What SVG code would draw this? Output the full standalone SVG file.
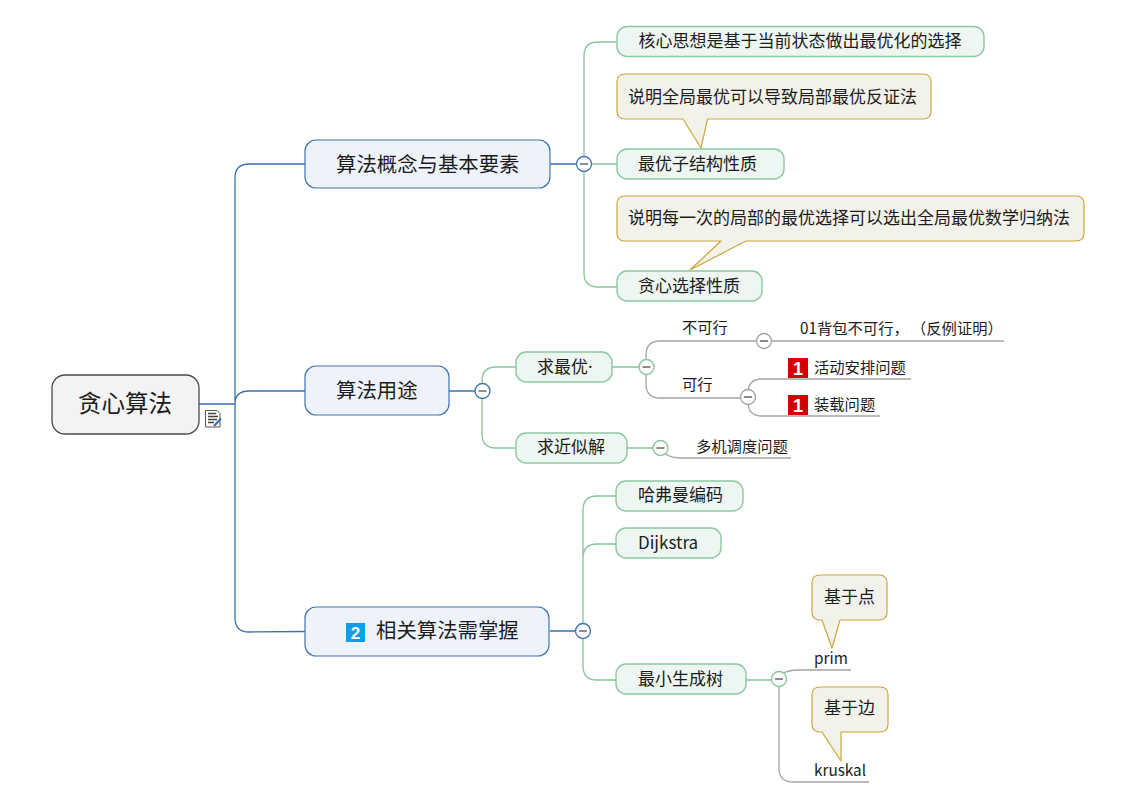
<svg xmlns="http://www.w3.org/2000/svg" width="1144" height="790" viewBox="0 0 1144 790">
<style>
text{font-family:"Noto Sans CJK SC","Noto Sans",sans-serif;fill:#1c1c1c;dominant-baseline:auto}
.l1{font-size:20.4px}.l2{font-size:17px}.l3{font-size:15.3px}
.root{fill:#f3f3f3;stroke:#4a4a4a;stroke-width:1.3}
.main{fill:#eef3fb;stroke:#3f74b1;stroke-width:1.2}
.sub{fill:#edf6f0;stroke:#8cc9a1;stroke-width:1.4}
.call{fill:#f3f2ea;stroke:#cda63c;stroke-width:1.2;stroke-linejoin:round}
.cb{fill:none;stroke:#3a72b0;stroke-width:1.3}
.cg{fill:none;stroke:#85c59b;stroke-width:1.3}
.cy{fill:none;stroke:#a5a5a5;stroke-width:1.3}
.tb{fill:#fff;stroke:#3f74b1;stroke-width:1.3}
.tg{fill:#fff;stroke:#85c59b;stroke-width:1.3}
.ty{fill:#fff;stroke:#a5a5a5;stroke-width:1.3}
.minus{stroke:#444;stroke-width:1.2}
.badge{fill:#d40000}
.bt{font-family:"Liberation Sans",sans-serif;font-size:18px;font-weight:bold;fill:#fff}
</style>
<defs>
<g id="badge1"><rect class="badge" x="0" y="0" width="20" height="20"/><text class="bt" x="10" y="16.500" text-anchor="middle">1</text></g>
</defs>
<g id="connectors">
<path class="cb" d="M199 404H235M235 404V178Q235 164 249 164H305M235 404V404Q235 391 249 391H305M235 404V618Q235 632 249 632L305 631.500"/>
<path class="cb" d="M550 164H584M449 391H482M550 631H583"/>
<path class="cg" d="M584 164H617M584 164V56Q584 42 598 42H617M584 164V273Q584 287 598 287H617"/>
<path class="cg" d="M482 391V381Q482 367 496 367H516M482 391V434Q482 448 496 448H516"/>
<path class="cg" d="M583 631V510Q583 496 597 496H616M583 631V558Q583 544 597 544H616M583 631V666Q583 680 597 680H616"/>
<path class="cg" d="M612 367H646M627 448H660M746 680H779"/>
<path class="cy" d="M646 367V355Q646 341 660 341H764M646 367V384Q646 398 660 398L748 398M764 341H1004"/>
<path class="cy" d="M748 398V393Q748 379 762 379H911M748 398V402Q748 416 762 416H880"/>
<path class="cy" d="M660 448Q666 458 680 458H791"/>
<path class="cy" d="M783 674Q786 670 800 670H851M779 680V768Q779 782 793 782H869"/>
</g>
<g id="toggles">
<circle class="tb" cx="584" cy="164" r="7.500"/><path class="minus" d="M580 164H588"/>
<circle class="tb" cx="482.500" cy="391" r="7.500"/><path class="minus" d="M478.500 391H486.500"/>
<circle class="tb" cx="583" cy="631" r="7.500"/><path class="minus" d="M579 631H587"/>
<circle class="tg" cx="646.500" cy="367" r="7.500"/><path class="minus" d="M642.500 367H650.500"/>
<circle class="tg" cx="660.500" cy="448" r="7.500"/><path class="minus" d="M656.500 448H664.500"/>
<circle class="tg" cx="779" cy="679" r="7.500"/><path class="minus" d="M775 679H783"/>
<circle class="ty" cx="764" cy="341" r="7.500"/><path class="minus" d="M760 341H768"/>
<circle class="ty" cx="748" cy="397" r="7.500"/><path class="minus" d="M744 397H752"/>
</g>
<g id="root"><rect class="root" x="52" y="375" width="147" height="59" rx="13"/><text x="78" y="412" font-size="23.500">贪心算法</text>
<g id="note-icon"><path d="M205.500 410.500H217L220 413.500V427H205.500Z" fill="#fff" stroke="#555" stroke-width="1"/><path d="M208 413.500H216M208 416.500H218M208 419.500H217M208 422.500H214" stroke="#444" stroke-width="1.600"/><path d="M214 426L221 418.500" stroke="#3a72b0" stroke-width="2.200"/></g></g>
<g id="n1"><rect class="main" x="305" y="140" width="245" height="48" rx="11"/><text class="l1" x="336" y="172">算法概念与基本要素</text></g>
<g id="n2"><rect class="main" x="305" y="366" width="144" height="49" rx="11"/><text class="l1" x="336" y="398">算法用途</text></g>
<g id="n3"><rect class="main" x="305" y="607" width="244" height="49" rx="11"/><rect x="346" y="623" width="19" height="19" fill="#0a9fe6"/><text x="355.500" y="639" text-anchor="middle" style="font-family:'Liberation Sans',sans-serif;font-size:17px;font-weight:bold;fill:#fff">2</text><text class="l1" x="376" y="638">相关算法需掌握</text></g>
<g id="n1-1"><rect class="sub" x="617" y="26.500" width="367" height="30" rx="10"/><text class="l2" x="638.500" y="47">核心思想是基于当前状态做出最优化的选择</text></g>
<g id="callout1"><path class="call" d="M625 74H923Q931 74 931 82V111Q931 119 923 119H707.500L701 148L683 119H625Q617 119 617 111V82Q617 74 625 74Z"/><text class="l2" x="628" y="103">说明全局最优可以导致局部最优反证法</text></g>
<g id="n1-2"><rect class="sub" x="617" y="149" width="167" height="30" rx="10"/><text class="l2" x="638" y="170">最优子结构性质</text></g>
<g id="callout2"><path class="call" d="M625 196H1076Q1084 196 1084 204V233Q1084 241 1076 241H746L690 270L721 241H625Q617 241 617 233V204Q617 196 625 196Z"/><text class="l2" x="628" y="224">说明每一次的局部的最优选择可以选出全局最优数学归纳法</text></g>
<g id="n1-3"><rect class="sub" x="617" y="271" width="145" height="30" rx="10"/><text class="l2" x="638" y="292">贪心选择性质</text></g>
<g id="n2-1"><rect class="sub" x="516" y="352" width="96" height="30" rx="10"/><text class="l2" x="537" y="373">求最优<tspan style="font-family:'Noto Sans',sans-serif">·</tspan></text></g>
<g id="n2-2"><rect class="sub" x="516" y="433" width="111" height="30" rx="10"/><text class="l2" x="537" y="453">求近似解</text></g>
<g id="leaf1"><text class="l3" x="682" y="333">不可行</text></g>
<g id="leaf2"><text class="l3" x="682" y="390">可行</text></g>
<g id="leaf3"><text class="l3" x="800" y="334">01背包不可行，<tspan x="911">（反例证明）</tspan></text></g>
<g id="leaf4"><use href="#badge1" x="788" y="358"/><text class="l3" x="814" y="373">活动安排问题</text></g>
<g id="leaf5"><use href="#badge1" x="788" y="395"/><text class="l3" x="814" y="410">装载问题</text></g>
<g id="leaf6"><text class="l3" x="696" y="452">多机调度问题</text></g>
<g id="n3-1"><rect class="sub" x="616" y="481" width="127" height="30" rx="10"/><text class="l2" x="638" y="501">哈弗曼编码</text></g>
<g id="n3-2"><rect class="sub" x="616" y="528" width="105" height="30" rx="10"/><text class="l2" x="638" y="549">Dijkstra</text></g>
<g id="n3-3"><rect class="sub" x="616" y="664" width="130" height="30" rx="10"/><text class="l2" x="638" y="685">最小生成树</text></g>
<g id="callout3"><path class="call" d="M820 575H879Q887 575 887 583V612Q887 620 879 620H840L832 648L822 620H820Q812 620 812 612V583Q812 575 820 575Z"/><text class="l2" x="824" y="603">基于点</text></g>
<g id="prim"><text class="l3" x="814" y="664">prim</text></g>
<g id="callout4"><path class="call" d="M820 687H880Q888 687 888 695V724Q888 732 880 732H841V761L822 732H820Q812 732 812 724V695Q812 687 820 687Z"/><text class="l2" x="824" y="714">基于边</text></g>
<g id="kruskal"><text class="l3" x="814" y="776">kruskal</text></g>
</svg>
